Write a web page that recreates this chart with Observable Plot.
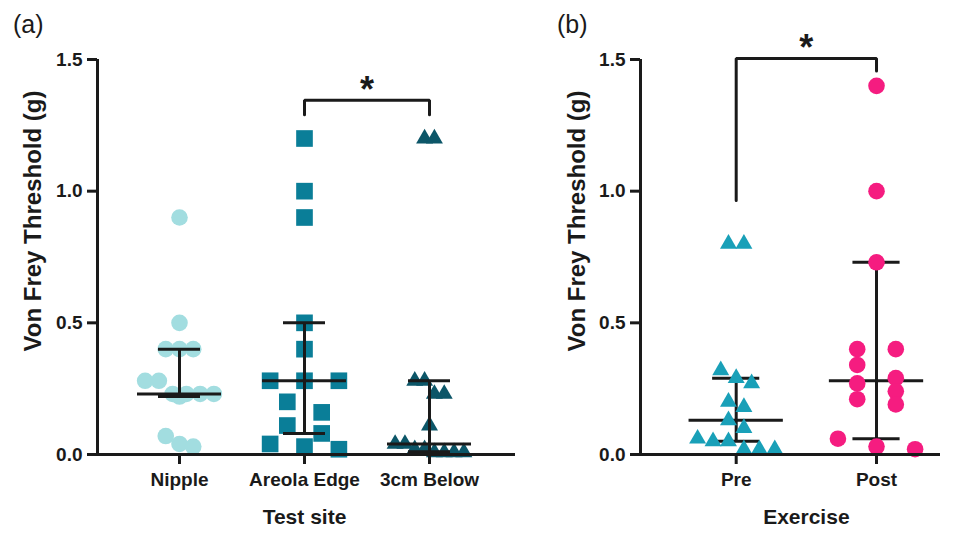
<!DOCTYPE html>
<html><head><meta charset="utf-8">
<script src="https://cdn.jsdelivr.net/npm/d3@7"></script>
<script src="https://cdn.jsdelivr.net/npm/@observablehq/plot@0.6"></script>
<style>
body{margin:0;background:#fff;font-family:"Liberation Sans",Arial,sans-serif;}
#wrap{position:relative;width:960px;height:535px;overflow:hidden}
.panel{position:absolute;top:0}
.lab{position:absolute;font-size:25px;color:#1a1a1a;line-height:1}
</style></head><body>
<div id="wrap">
  <div id="pa" class="panel" style="left:0"></div>
  <div id="pb" class="panel" style="left:540px"></div>
  <div class="lab" style="left:13px;top:12px">(a)</div>
  <div class="lab" style="left:557px;top:12px">(b)</div>
</div>
<script>
// ---- data ----
const sites = ["Nipple", "Areola Edge", "3cm Below"];
const nipple = [0.9, 0.5, 0.4, 0.4, 0.4, 0.28, 0.28, 0.23, 0.23, 0.23, 0.23, 0.22, 0.07, 0.04, 0.03];
const areolaEdge = [1.2, 1.0, 0.9, 0.5, 0.4, 0.28, 0.28, 0.28, 0.2, 0.16, 0.11, 0.08, 0.04, 0.03, 0.02];
const below3cm = [1.2, 1.2, 0.28, 0.28, 0.23, 0.23, 0.11, 0.04, 0.04, 0.02, 0.02, 0.008, 0.008, 0.008, 0.008];
const siteMedian = [0.23, 0.28, 0.04];
const siteLow = [0.22, 0.08, 0.01];
const siteHigh = [0.4, 0.5, 0.28];

const phases = ["Pre", "Post"];
const pre = [0.8, 0.8, 0.32, 0.29, 0.27, 0.2, 0.18, 0.13, 0.1, 0.06, 0.05, 0.05, 0.02, 0.02, 0.02];
const post = [1.4, 1.0, 0.73, 0.4, 0.4, 0.34, 0.29, 0.27, 0.24, 0.21, 0.19, 0.06, 0.03, 0.02];
const phaseMedian = [0.13, 0.28];
const phaseLow = [0.05, 0.06];
const phaseHigh = [0.29, 0.73];

const yTicks = [0, 0.5, 1.0, 1.5];
const yTitle = "Von Frey Threshold (g)";
// significance brackets (y in threshold units)
const sigA = {from: "Areola Edge", to: "3cm Below", level: 1.345, dropFrom: 1.29, dropTo: 1.29, mark: "*"};
const sigB = {from: "Pre", to: "Post", level: 1.504, dropFrom: 0.965, dropTo: 1.456, mark: "*"};

// ---- layout ----
const H = 535, MT = 59, MB = 81;
const INK = "#1a1a1a";
const SPREAD = 0.55;          // horizontal spread of scatter, in category steps
const pxPerUnit = (H - MT - MB) / 1.5;

// Prism-like column scatter: bin close values into rows, spread each row around the category
function scatterOffsets(values) {
  const order = d3.range(values.length).sort((a, b) => values[b] - values[a]);
  const rows = [];
  for (const i of order) {
    const r = rows[rows.length - 1];
    if (r && (values[r[0]] - values[i]) * pxPerUnit < 15) r.push(i); else rows.push([i]);
  }
  const maxRow = d3.max(rows, r => r.length);
  const s = maxRow > 1 ? Math.min(SPREAD / 2, SPREAD / (maxRow - 1)) : 0;
  const off = new Array(values.length).fill(0);
  for (const r of rows) r.forEach((i, j) => off[i] = (j - (r.length - 1) / 2) * s);
  return off;
}

function panel(o) {
  const pts = [];
  o.groups.forEach((vals, g) => {
    const off = scatterOffsets(vals);
    vals.forEach((v, i) => pts.push({g, v, x: g + off[i]}));
  });
  const stats = o.cats.map((c, g) => ({g, med: o.med[g], lo: o.lo[g], hi: o.hi[g]}));
  const dots = o.groups.map((_, g) => Plot.dot(pts.filter(d => d.g === g), {
    x: "x", y: "v", symbol: o.symbols[g], r: o.r[g], fill: o.colors[g], stroke: "none"
  }));
  const bars = [
    Plot.ruleX(stats, {x: "g", y1: "lo", y2: "hi", stroke: INK, strokeWidth: 3}),
    Plot.ruleY(stats, {y: "med", x1: d => d.g - 0.336, x2: d => d.g + 0.336, stroke: INK, strokeWidth: 3}),
    Plot.ruleY(stats, {y: "lo", x1: d => d.g - 0.168, x2: d => d.g + 0.168, stroke: INK, strokeWidth: 3}),
    Plot.ruleY(stats, {y: "hi", x1: d => d.g - 0.168, x2: d => d.g + 0.168, stroke: INK, strokeWidth: 3})
  ];
  const a = o.cats.indexOf(o.sig.from), b = o.cats.indexOf(o.sig.to);
  const bracket = [
    {x: a, y: o.sig.dropFrom}, {x: a, y: o.sig.level}, {x: b, y: o.sig.level}, {x: b, y: o.sig.dropTo}
  ];
  const [x0, x1] = o.xDomain;
  return Plot.plot({
    width: o.width, height: H,
    marginLeft: o.marginLeft, marginRight: o.marginRight, marginTop: MT, marginBottom: MB,
    style: {fontFamily: '"Liberation Sans", Arial, sans-serif', fontSize: "19px", fontWeight: "bold", color: INK, background: "white", overflow: "visible"},
    x: {domain: o.xDomain, axis: null},
    y: {domain: [0, 1.5], axis: null},
    marks: [
      ...(o.dotsOnTop ? [...bars, ...dots] : [...dots, ...bars]),
      Plot.ruleY([0], {x1: x0, x2: x1, stroke: INK, strokeWidth: 3}),
      Plot.ruleX([x0], {y1: 0, y2: 1.5, stroke: INK, strokeWidth: 3}),
      Plot.axisY({ticks: yTicks, tickFormat: d3.format(".1f"), tickSize: 10, tickPadding: 5, strokeWidth: 3, label: null}),
      Plot.axisX({ticks: o.cats.map((c, i) => i), tickFormat: i => o.cats[i], tickSize: 10, tickPadding: 8, strokeWidth: 3, label: null}),
      Plot.text([o.yTitle], {text: d => d, frameAnchor: "left", textAnchor: "middle", dx: o.yTitleDx, dy: -36, rotate: -90, fontSize: 24, fontWeight: "bold", fill: INK}),
      Plot.text([o.xTitle], {text: d => d, x: [(o.cats.length - 1) / 2], frameAnchor: "bottom", dy: 69, fontSize: 21, fontWeight: "bold", fill: INK}),
      Plot.line(bracket, {x: "x", y: "y", stroke: INK, strokeWidth: 3, strokeLinejoin: "miter"}),
      Plot.text([o.sig], {x: (a + b) / 2, y: "level", text: "mark", fontSize: 36, fontWeight: "bold", dy: -10, fill: INK})
    ]
  });
}

document.getElementById("pa").append(panel({
  cats: sites, groups: [nipple, areolaEdge, below3cm],
  med: siteMedian, lo: siteLow, hi: siteHigh,
  symbols: ["circle", "square", "triangle"], r: [8.3, 9.4, 6.3],
  colors: ["#a2dde0", "#0a7e98", "#0c5668"],
  width: 540, marginLeft: 97, marginRight: 25, xDomain: [-0.656, 2.688],
  yTitle, yTitleDx: -64, xTitle: "Test site", sig: sigA, dotsOnTop: false
}));
document.getElementById("pb").append(panel({
  cats: phases, groups: [pre, post],
  med: phaseMedian, lo: phaseLow, hi: phaseHigh,
  symbols: ["triangle", "circle"], r: [6.3, 8.3],
  colors: ["#19a0b8", "#f51c80"],
  width: 420, marginLeft: 100, marginRight: 20, xDomain: [-0.682, 1.456],
  yTitle, yTitleDx: -63, xTitle: "Exercise", sig: sigB, dotsOnTop: true
}));
</script>
</body></html>
